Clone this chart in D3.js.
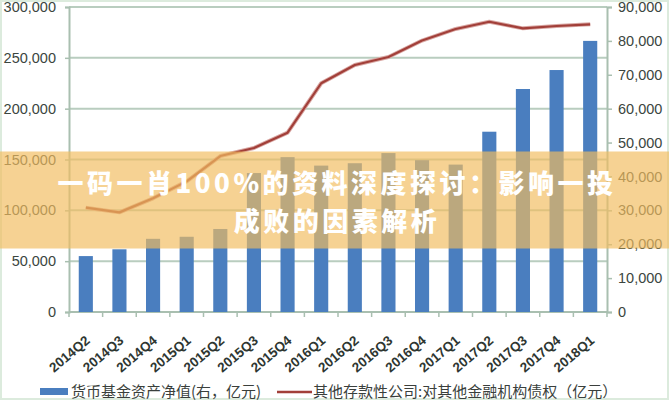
<!DOCTYPE html>
<html><head><meta charset="utf-8">
<script src="https://cdn.jsdelivr.net/npm/d3@7"></script>
<style>
html,body{margin:0;padding:0;background:#fff;}
svg{display:block;}
</style></head>
<body>
<svg id="chart" width="669" height="400"></svg>
<script>
const categories = ["2014Q2","2014Q3","2014Q4","2015Q1","2015Q2","2015Q3","2015Q4","2016Q1","2016Q2","2016Q3","2016Q4","2017Q1","2017Q2","2017Q3","2017Q4","2018Q1"];
// 货币基金资产净值 (右轴, 亿元)
const fundValues = [16500,18500,21600,22200,24500,41000,45700,43200,43900,46900,44800,43500,53200,65800,71400,80000];
// 其他存款性公司:对其他金融机构债权 (左轴, 亿元)
const claimValues = [102600,98000,111800,128500,153400,161300,176400,225000,242900,250800,267000,278400,285500,279000,281300,283000];
const leftTicks = [0,50000,100000,150000,200000,250000,300000];
const rightTicks = [0,10000,20000,30000,40000,50000,60000,70000,80000,90000];
const legendLabels = ["货币基金资产净值(右，亿元)","其他存款性公司:对其他金融机构债权（亿元）"];
const titleLines = ["一码一肖100%的资料深度探讨：影响一投","成败的因素解析"];

const W = 669, H = 400;
const m = {left:69, right:62, top:7, bottom:88};
const svg = d3.select("#chart");
const gridColor = "#b9cdbf";
const axisColor = "#a9bfb0";
const textColor = "#3b4640";

svg.append("rect").attr("x",1).attr("y",1).attr("width",W-2).attr("height",H-2)
  .attr("fill","none").attr("stroke","#dcebdd").attr("stroke-width",2);

const x = d3.scaleBand().domain(categories).range([m.left, W-m.right]).paddingInner(0.58).paddingOuter(0.29);
const xCell = d3.scaleBand().domain(categories).range([m.left, W-m.right]).padding(0);
const yL = d3.scaleLinear().domain([0,300000]).range([H-m.bottom, m.top]);
const yR = d3.scaleLinear().domain([0,90000]).range([H-m.bottom, m.top]);

// gridlines
svg.append("g").selectAll("line").data(leftTicks).join("line")
  .attr("x1",m.left).attr("x2",W-m.right)
  .attr("y1",d=>yL(d)).attr("y2",d=>yL(d))
  .attr("stroke",gridColor).attr("stroke-width",2);

// left axis
const gL = svg.append("g").attr("transform",`translate(${m.left},0)`)
  .call(d3.axisLeft(yL).tickValues(leftTicks).tickFormat(d3.format(",")).tickSize(4).tickPadding(9));
gL.select(".domain").attr("stroke",axisColor).attr("stroke-width",2);
gL.selectAll(".tick line").attr("stroke",axisColor).attr("stroke-width",1.5);
gL.selectAll("text").attr("fill",textColor).style("font-family","'Liberation Sans',Arial,sans-serif").style("font-size","14.5px");

// right axis
const gR = svg.append("g").attr("transform",`translate(${W-m.right},0)`)
  .call(d3.axisRight(yR).tickValues(rightTicks).tickFormat(d3.format(",")).tickSize(5).tickPadding(6));
gR.select(".domain").attr("stroke",axisColor).attr("stroke-width",2);
gR.selectAll(".tick line").attr("stroke",axisColor).attr("stroke-width",1.5);
gR.selectAll("text").attr("fill",textColor).style("font-family","'Liberation Sans',Arial,sans-serif").style("font-size","14.5px");

// x axis baseline + ticks at cell boundaries
const baseY = yL(0);
svg.append("line").attr("x1",m.left).attr("x2",W-m.right).attr("y1",baseY).attr("y2",baseY)
  .attr("stroke",axisColor).attr("stroke-width",2);
const bounds = categories.map(c=>xCell(c)).concat([xCell(categories[categories.length-1])+xCell.bandwidth()]);
svg.append("g").selectAll("line").data(bounds).join("line")
  .attr("x1",d=>d).attr("x2",d=>d).attr("y1",baseY).attr("y2",baseY+5)
  .attr("stroke",axisColor).attr("stroke-width",1.5);

// x labels
svg.append("g").selectAll("text").data(categories).join("text")
  .attr("transform",d=>`translate(${x(d)+x.bandwidth()/2+5},${baseY+30}) rotate(-40)`)
  .attr("text-anchor","end")
  .attr("fill","#2e3631")
  .style("font-family","'Liberation Sans',Arial,sans-serif")
  .style("font-size","13.5px").style("font-weight","bold")
  .text(d=>d);

// bars
svg.append("g").selectAll("rect").data(categories).join("rect")
  .attr("x",d=>x(d)).attr("width",x.bandwidth())
  .attr("y",(d,i)=>yR(fundValues[i]))
  .attr("height",(d,i)=>yR(0)-yR(fundValues[i]))
  .attr("fill","#4a7ebf");

// line
const line = d3.line().x(d=>x(d.c)+x.bandwidth()/2).y(d=>yL(d.v));
const lineData = categories.map((c,i)=>({c, v:claimValues[i]}));
svg.append("path").datum(lineData).attr("d",line)
  .attr("fill","none").attr("stroke","#d9a8a4").attr("stroke-width",4).attr("stroke-linejoin","round");
svg.append("path").datum(lineData).attr("d",line)
  .attr("fill","none").attr("stroke","#a23f39").attr("stroke-width",2.2).attr("stroke-linejoin","round");

// legend
const lg = svg.append("g").style("font-family","'Noto Sans CJK SC',sans-serif").style("font-size","15px");
lg.append("rect").attr("x",40).attr("y",388).attr("width",28).attr("height",7).attr("fill","#4a7ebf");
lg.append("text").attr("x",71).attr("y",397).attr("fill","#3a3f3c").text(legendLabels[0]);
lg.append("line").attr("x1",277).attr("x2",312).attr("y1",392).attr("y2",392).attr("stroke","#a23f39").attr("stroke-width",2.5);
lg.append("text").attr("x",313).attr("y",397).attr("fill","#3a3f3c").text(legendLabels[1]);

// overlay banner
svg.append("rect").attr("x",0).attr("y",151.5).attr("width",W).attr("height",97)
  .attr("fill","rgb(242,188,96)").attr("opacity",0.68);
svg.append("g").selectAll("text").data(titleLines).join("text")
  .attr("x",337).attr("y",(d,i)=>192.5+i*38)
  .attr("text-anchor","middle")
  .attr("fill","#ffffff")
  .style("font-family","'Noto Sans CJK SC',sans-serif")
  .style("font-weight","900").style("font-size","26px").style("letter-spacing","3.5px")
  .text(d=>d);
</script>
</body></html>
